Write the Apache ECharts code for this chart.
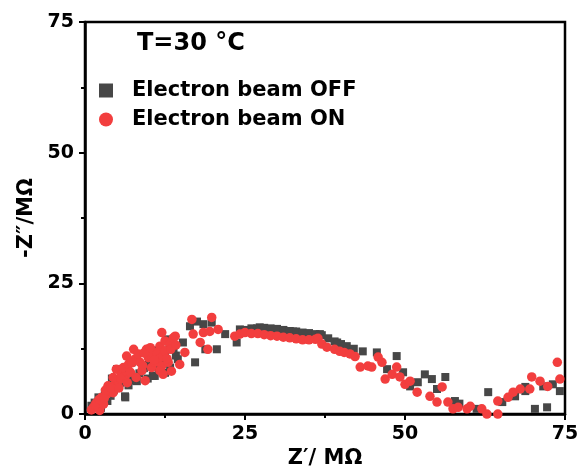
<!DOCTYPE html>
<html><head><meta charset="utf-8">
<script src="https://cdn.jsdelivr.net/npm/echarts@6/dist/echarts.min.js"></script>
<style>html,body{margin:0;padding:0;background:#fff}#c{width:582px;height:474px}</style>
</head><body><div id="c"></div>
<script>
const titleText = 'T=30 °C';
const seriesNames = ['Electron beam OFF', 'Electron beam ON'];
const xTicks = [0, 25, 50, 75];
const yTicks = [0, 25, 50, 75];

const offX = [1.0,2.1,3.1,5.2,6.3,6.25,7.8,5.0,7.0,7.3,8.1,10.6,10.9,12.5,12.8,13.8,13.3,
  1.5,2.5,3.5,4.0,4.5,5.5,6.8,8.5,9.2,9.8,11.5,12.0,12.5,13.2,14.2,4.2,5.8,7.2,10.0,11.0,
  13.8,14.5,15.3,17.2,16.4,17.5,18.5,19.8,18.8,20.6,21.9,23.7,24.2,25,26,26.9,27.3,28,29,30,31,32,32.5,33,34,35,36,36.7,37,38,39,39.4,40,40.9,42,43.4,
  45.6,48.7,47.2,49.7,50.8,52,53.1,54.2,55,56.3,57.8,58.5,61.2,63,65.2,67.2,68.8,68.8,70.3,71.6,72.2,73.1,74.2];
const offY = [1.6,3.2,4.1,5.1,3.2,3.4,6.4,8.6,9.9,9.9,6.3,7.3,7.3,7.9,14.3,12.4,8.9,
  2.2,1.2,2.5,3.5,4.6,6.0,5.5,7.8,8.8,6.8,8.5,10.5,11.8,13.6,11.2,6.8,8.2,6.8,10.0,12.2,
  12.4,10.5,13.7,9.9,16.8,17.7,17.2,17.5,12.4,12.4,15.3,13.7,16.2,16.1,16.4,16.4,16.6,16.5,16.4,16.3,16.1,15.9,15.8,15.8,15.6,15.5,15.3,15.3,15.1,14.5,13.9,13.7,13.4,13.0,12.5,12.0,
  11.8,11.1,8.6,8.0,5.3,6.1,7.6,6.7,4.8,7.1,2.5,2.0,1.0,4.2,2.3,3.4,5.2,4.4,1.0,5.3,1.3,5.7,4.4];

const onX = [1.3,2.3,1.8,2.9,2.6,3.4,3.9,4.4,3.6,4.7,5.2,4.4,4.9,5.7,6.3,6.0,6.8,6.5,7.6,7.8,8.6,8.3,8.9,9.4,9.6,9.9,10.4,10.4,10.9,11.2,11.5,12.0,11.7,12.2,12.5,12.0,12.5,12.2,13.3,13.0,13.8,
  1.0,1.6,2.2,3.0,3.2,4.1,5.3,5.6,6.6,7.1,7.3,8.0,9.0,9.2,10.2,10.8,11.7,12.8,13.4,14.2,
  14.1,13.5,14.8,15.6,16.7,16.9,18.0,18.5,19.5,19.8,19.2,20.8,
  23.4,24.2,25,26,27,28,29,30,31,32,33,34,35,36,36.4,37,37.8,39,39.8,40.5,41.4,42.2,43.0,44.2,
  44.8,45.8,46.4,46.9,48.0,48.7,49.2,50.0,50.8,51.9,53.9,55.8,55.0,56.7,57.5,58.3,59.7,60.2,62.0,62.8,64.5,64.5,66.1,66.9,68.0,69.5,69.8,71.1,72.3,73.8,74.2];
const onY = [1.3,0.7,2.2,1.9,3.2,3.8,4.4,4.1,5.4,5.7,6.4,7.0,8.6,7.6,7.3,8.9,9.5,11.1,12.4,10.5,9.9,11.5,8.3,6.4,12.4,10.8,11.1,8.9,9.9,11.8,10.5,9.2,13.0,11.1,12.1,15.6,14.0,7.6,13.4,9.9,14.6,
  0.8,1.8,2.8,3.0,4.6,5.0,5.0,6.8,6.0,8.0,9.8,7.0,9.3,11.7,12.7,10.4,8.3,10.6,12.4,13.2,
  14.9,8.2,9.5,11.8,18.1,15.3,13.7,15.6,15.8,18.5,12.4,16.2,
  14.9,15.3,15.6,15.4,15.4,15.2,15.0,14.9,14.7,14.6,14.4,14.2,14.2,14.3,14.5,13.4,12.8,12.4,12.0,11.8,11.5,11.0,9.0,9.2,
  9.0,10.9,9.9,6.7,7.6,9.0,7.1,5.7,6.3,4.2,3.4,5.2,2.3,2.3,1.0,1.3,1.0,1.5,1.0,0.0,0.0,2.5,3.2,4.2,4.8,4.8,7.1,6.3,5.3,9.9,6.7];

const zip = (a, b) => a.map((v, i) => [v, b[i]]);
const font = '"DejaVu Sans", sans-serif';
const chart = echarts.init(document.getElementById('c'), null, {renderer: 'canvas'});
const axisCommon = {
  min: 0, max: 75, interval: 25,
  axisLine: {show: true, lineStyle: {color: '#000', width: 2.5}},
  axisTick: {show: true, inside: false, length: 6, lineStyle: {color: '#000', width: 2}},
  minorTick: {show: true, splitNumber: 2, length: 4, lineStyle: {color: '#000', width: 2}},
  splitLine: {show: false},
  nameLocation: 'middle',
  nameTextStyle: {fontFamily: font, fontWeight: 'bold', fontSize: 21, color: '#000'}
};
chart.setOption({
  animation: false,
  backgroundColor: '#fff',
  title: {text: titleText, left: 137, top: 32, padding: 0,
    textStyle: {fontFamily: font, fontWeight: 'bold', fontSize: 24, color: '#000'}},
  legend: {
    orient: 'vertical', left: 99, top: 80, itemWidth: 14, itemHeight: 14, itemGap: 8, padding: 0,
    textStyle: {fontFamily: font, fontWeight: 'bold', fontSize: 21, lineHeight: 14, color: '#000', padding: [0, 0, 0, 14]},
    data: [{name: seriesNames[0], icon: 'rect'}, {name: seriesNames[1], icon: 'circle'}]
  },
  grid: {left: 85, right: 17, top: 22, bottom: 59, show: true, borderColor: '#000', borderWidth: 2.5},
  xAxis: Object.assign({}, axisCommon, {
    type: 'value', name: 'Z′/ MΩ', nameGap: 31,
    axisLabel: {margin: 10, fontFamily: font, fontWeight: 'bold', fontSize: 19, color: '#000',
      formatter: v => xTicks.includes(v) ? String(v) : ''}
  }),
  yAxis: Object.assign({}, axisCommon, {
    type: 'value', name: '-Z″/MΩ', nameGap: 48,
    axisLabel: {margin: 11, fontFamily: font, fontWeight: 'bold', fontSize: 19, color: '#000',
      formatter: v => yTicks.includes(v) ? String(v) : ''}
  }),
  series: [
    {name: seriesNames[0], type: 'scatter', symbol: 'rect', symbolSize: 8,
     itemStyle: {color: '#474747', opacity: 1}, data: zip(offX, offY), z: 2},
    {name: seriesNames[1], type: 'scatter', symbol: 'circle', symbolSize: 9.5,
     itemStyle: {color: '#f23e3e', opacity: 1}, data: zip(onX, onY), z: 3}
  ]
});
</script></body></html>
